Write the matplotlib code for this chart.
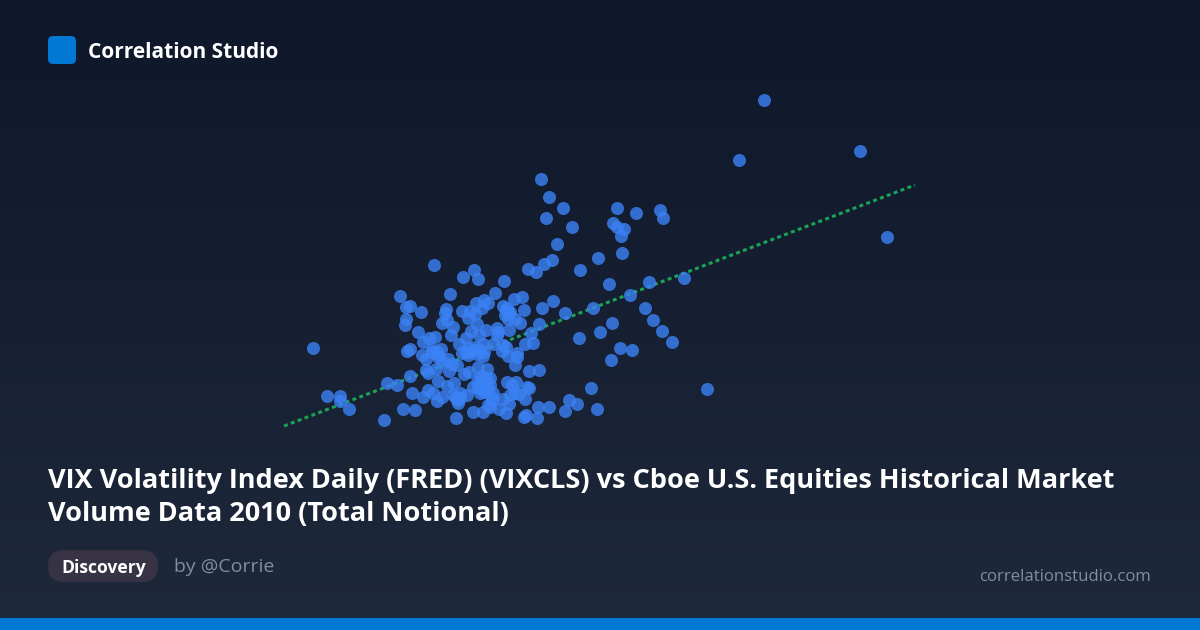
import matplotlib
matplotlib.use('Agg')
import matplotlib.pyplot as plt
import numpy as np
from matplotlib.patches import FancyBboxPatch, Rectangle

# values, no scale is printed on the chart
vix_outer = [764, 739, 860, 887, 541, 549, 563, 546, 572, 557, 617, 636, 660, 663, 613, 617, 624, 621,
             622, 598, 580, 609, 630, 649, 684, 645, 653, 662, 672, 620, 632, 611, 612, 600, 593, 707,
             591, 597, 313, 327, 340, 340, 349, 552, 579]
notional_outer = [100, 160, 151, 237, 179, 197, 208, 218, 227, 244, 208, 213, 210, 218, 223, 227, 229, 236,
                  253, 258, 270, 284, 295, 282, 278, 308, 320, 331, 342, 348, 350, 360, 323, 332, 308, 389,
                  388, 409, 348, 396, 396, 401, 409, 260, 338]

vix_cluster = [434, 474, 463, 478, 528, 536, 544, 504, 450, 495, 400, 514, 522, 553, 484, 488, 476, 503,
               406, 410, 421, 446, 445, 462, 470, 475, 468, 482, 524, 542, 565, 507, 510, 505, 508, 515,
               520, 406, 405, 442, 447, 453, 477, 486, 471, 539, 497, 498, 509, 497, 418, 451, 466, 479,
               531, 423, 429, 435, 459, 483, 475, 468, 462, 468, 477, 483, 493, 503, 525, 533, 407, 410,
               432, 437, 441, 506, 502, 517, 508, 517, 422, 426, 438, 443, 448, 452, 457, 515, 426, 428,
               436, 449, 464, 478, 487, 469, 529, 539, 410, 387, 397, 438, 454, 447, 480, 490, 477, 485,
               473, 480, 487, 507, 516, 512, 527, 529, 412, 428, 433, 423, 442, 437, 453, 460, 467, 457,
               458, 480, 493, 492, 488, 515, 519, 510, 503, 525, 509, 499, 506, 490, 473, 483, 538, 549,
               569, 577, 565, 403, 415, 384, 456, 524, 526, 537]
notional_cluster = [265, 270, 277, 279, 269, 272, 264, 281, 294, 293, 296, 299, 297, 301, 300, 303, 303, 306,
                    307, 306, 312, 309, 313, 311, 311, 314, 318, 308, 310, 308, 313, 308, 312, 315, 319, 319,
                    323, 319, 325, 323, 320, 327, 324, 330, 331, 324, 328, 332, 330, 335, 332, 335, 338, 335,
                    333, 342, 338, 337, 344, 344, 347, 348, 353, 355, 354, 356, 344, 345, 344, 343, 351, 349,
                    349, 352, 349, 347, 351, 353, 356, 357, 355, 359, 357, 362, 359, 364, 365, 365, 370, 373,
                    369, 371, 374, 367, 369, 372, 371, 370, 376, 383, 385, 381, 383, 386, 377, 378, 382, 382,
                    387, 387, 387, 382, 382, 385, 387, 388, 393, 390, 393, 397, 397, 401, 395, 393, 395, 400,
                    403, 393, 393, 398, 405, 393, 394, 395, 399, 399, 404, 409, 413, 407, 412, 412, 407, 407,
                    400, 404, 411, 409, 410, 420, 418, 417, 415, 418]

# overlapping points where the picture gets brighter
vix_dense = [482, 484, 486, 480, 478, 488, 484, 482, 490, 456, 460, 508, 506, 470, 474, 480, 484, 466, 492, 438, 432]
notional_dense = [380, 384, 378, 385, 388, 390, 392, 376, 385, 397, 398, 312, 310, 352, 350, 350, 352, 352, 400, 355, 352]

trend_x = [284, 915]
trend_y = [426, 185]

title_lines = ['VIX Volatility Index Daily (FRED) (VIXCLS) vs Cboe U.S. Equities Historical Market',
               'Volume Data 2010 (Total Notional)']

plt.rcParams['font.family'] = ['Open Sans', 'DejaVu Sans']

fig = plt.figure(figsize=(12, 6.3), dpi=100)
ax = fig.add_axes([0, 0, 1, 1])
ax.set_xlim(0, 1200)
ax.set_ylim(630, 0)
ax.axis('off')

# background gradient
gradient = np.linspace(0, 1, 256).reshape(-1, 1)
top = np.array([15, 23, 42]) / 255
bottom = np.array([30, 41, 59]) / 255
colors = (top + gradient[..., None] * (bottom - top))
ax.imshow(colors, extent=(0, 1200, 630, 0), aspect='auto', zorder=0)

# scatter and trend line
ax.plot(trend_x, trend_y, color='#1aa355', linewidth=2.2, linestyle=(0, (1.3, 1.1)), zorder=2)
ax.scatter(vix_outer + vix_cluster + vix_dense, notional_outer + notional_cluster + notional_dense,
           s=88, color='#3b82f6', alpha=0.8, linewidths=0, zorder=3)

# header
ax.add_patch(FancyBboxPatch((52, 40), 20, 20, boxstyle='round,pad=4,rounding_size=5',
                            facecolor='#0078d4', edgecolor='none', zorder=4))
ax.text(88, 53, 'Correlation Studio', color='white', fontsize=15, fontweight='bold', va='center', zorder=4)

# title
ax.text(48, 481, title_lines[0], color='white', fontsize=19.5, fontweight='bold', va='center', zorder=4)
ax.text(48, 514, title_lines[1], color='white', fontsize=19.5, fontweight='bold', va='center', zorder=4)

# badge, author, site
ax.add_patch(FancyBboxPatch((48, 550), 110, 32, boxstyle='round,pad=0,rounding_size=16',
                            facecolor='#383344', edgecolor='none', zorder=4))
ax.text(103.5, 568, 'Discovery', color='white', fontsize=12.6, fontweight='bold', ha='center', va='center', zorder=5)
ax.text(174, 567.5, 'by @Corrie', color='#7f8ea3', fontsize=14, va='center', zorder=4)
ax.text(1151, 577, 'correlationstudio.com', color='#7f8ea3', fontsize=12.05, ha='right', va='center', zorder=4)

# bottom bar
ax.add_patch(Rectangle((0, 618), 1200, 12, facecolor='#0078d4', edgecolor='none', zorder=4))

fig.savefig('out.png', dpi=100)
